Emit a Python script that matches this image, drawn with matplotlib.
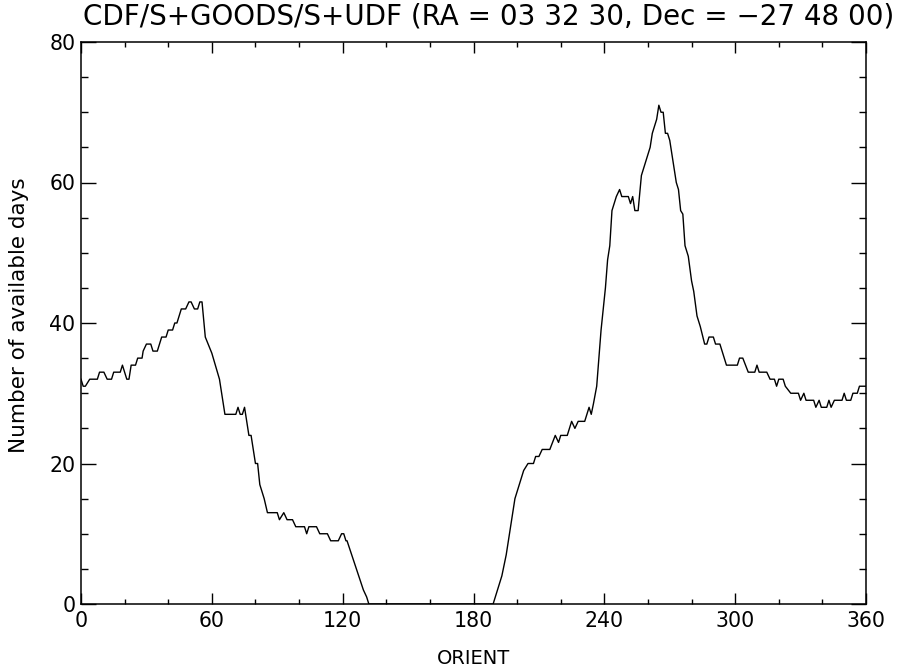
import numpy as np
import matplotlib
matplotlib.use("Agg")
import matplotlib.pyplot as plt
from matplotlib.ticker import MultipleLocator

# ORIENT (deg) and number of available days
orient = [0, 1, 2, 4, 7.5, 8.5, 10.5, 12, 14, 15, 18, 19, 21, 22, 23, 25, 26, 28,
          28.5, 30, 32, 33, 35, 37, 39, 40, 42, 43, 44, 46, 48, 49.5, 50.5, 52,
          53.5, 54.5, 55.5, 57, 60, 63.5, 66, 71, 72, 73, 74, 75, 77, 78, 80, 81,
          82, 84, 85.5, 90, 91, 93, 94.5, 97, 98.5, 102.5, 103.5, 104.5, 108,
          109.5, 113, 114.5, 118, 119.5, 120.5, 121.5, 122, 129.5, 131, 132,
          189, 193, 195, 199, 203, 205, 207.5, 208.5, 210, 211.5, 215, 217.5,
          219, 220, 223, 225, 226.5, 228, 231, 233, 234, 235, 236.5, 238.5,
          240.5, 241.5, 242.5, 243.5, 245.5, 247, 248, 251, 252, 253, 254,
          255.5, 257, 259, 261, 262, 264, 265, 266, 267, 268, 269, 270, 271.5,
          273, 274, 275, 276, 277, 278.5, 280, 281, 282.5, 284, 286, 287, 288,
          290, 291, 293, 294, 296, 301, 302, 303.5, 306, 309, 310, 311, 314.5,
          316, 318, 319, 320, 322, 323, 325.5, 329, 330, 331.5, 332.5, 336, 337,
          338.5, 339.5, 342, 343, 344, 345.5, 349, 350, 351, 353, 354, 356, 357,
          360]
days = [32, 31, 31, 32, 32, 33, 33, 32, 32, 33, 33, 34, 32, 32, 34, 34, 35, 35,
        36, 37, 37, 36, 36, 38, 38, 39, 39, 40, 40, 42, 42, 43, 43, 42,
        42, 43, 43, 38, 35.7, 32, 27, 27, 28, 27, 27, 28, 24, 24, 20, 20,
        17, 15, 13, 13, 12, 13, 12, 12, 11, 11, 10, 11, 11,
        10, 10, 9, 9, 10, 10, 9, 9, 2, 1, 0,
        0, 4, 7, 15, 19, 20, 20, 21, 21, 22, 22, 24,
        23, 24, 24, 26, 25, 26, 26, 28, 27, 28.5, 31, 39,
        45, 49, 51, 56, 58, 59, 58, 58, 57, 58, 56,
        56, 61, 63, 65, 67, 69, 71, 70, 70, 67, 67, 66, 63,
        60, 59, 56, 55.5, 51, 49.5, 46, 44.5, 41, 39.5, 37, 37, 38,
        38, 37, 37, 36, 34, 34, 35, 35, 33, 33, 34, 33, 33,
        32, 32, 31, 32, 32, 31, 30, 30, 29, 30, 29, 29, 28,
        29, 28, 28, 29, 28, 29, 29, 30, 29, 29, 30, 30, 31,
        31]

title = "CDF/S+GOODS/S+UDF (RA = 03 32 30, Dec = \u221227 48 00)"

plt.rcParams['font.family'] = ['DejaVu Sans']

fig = plt.figure(figsize=(9.02, 6.69), dpi=100)
ax = fig.add_axes([81 / 902, 1 - 604 / 669, 785 / 902, 562 / 669])

ax.plot(orient, days, color='black', lw=1.0)

ax.set_xlim(0, 360)
ax.set_ylim(0, 80)
ax.xaxis.set_major_locator(MultipleLocator(60))
ax.xaxis.set_minor_locator(MultipleLocator(20))
ax.yaxis.set_major_locator(MultipleLocator(20))
ax.yaxis.set_minor_locator(MultipleLocator(5))

ax.tick_params(axis='both', which='both', direction='in', top=True, right=True,
               width=1.0, labelsize=14.8)
ax.tick_params(axis='x', which='major', length=8, pad=5)
ax.tick_params(axis='x', which='minor', length=3.6)
ax.tick_params(axis='y', which='major', length=10.5, pad=4)
ax.tick_params(axis='y', which='minor', length=5.2)
for s in ax.spines.values():
    s.set_linewidth(1.1)

# IDL keeps the end labels inside the axis range
ylabels = ax.get_yticklabels()
ylabels[0].set_va('bottom')
ylabels[-1].set_va('top')

ax.set_xlabel('ORIENT', fontsize=14)
ax.xaxis.set_label_coords(0.5, -0.080)
ax.set_ylabel('Number of available days', fontsize=15.5)
ax.yaxis.set_label_coords(-0.066, 0.514)

fig.text(489 / 902, 1 - 16 / 669, title, fontsize=20, ha='center', va='center')

fig.savefig('out.png', dpi=100)
